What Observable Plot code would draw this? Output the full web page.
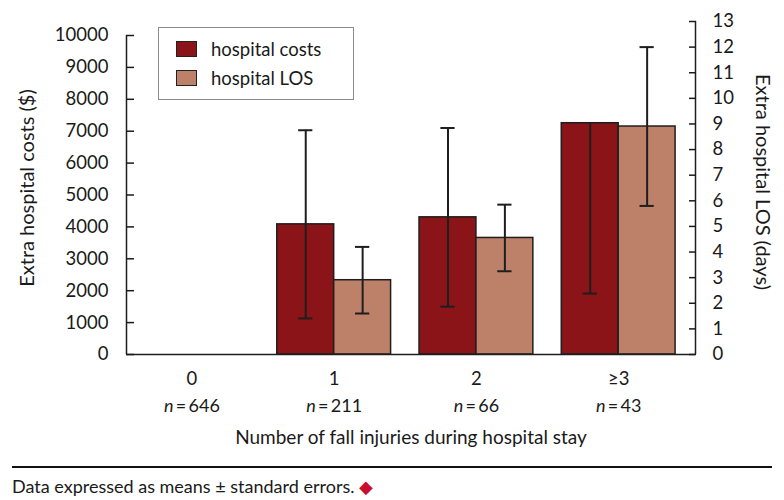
<!DOCTYPE html>
<html><head><meta charset="utf-8">
<script src="https://cdn.jsdelivr.net/npm/d3@7"></script>
<script src="https://cdn.jsdelivr.net/npm/@observablehq/plot@0.6"></script>
<style>
body{margin:0;background:#fff;font-family:Lato,"Open Sans",sans-serif;color:#1a1a1a;}
#wrap{position:relative;width:784px;}
#legend{position:absolute;left:158px;top:27px;width:194px;height:71px;border:1.5px solid #8a8a8a;background:#fff;}
.item{position:absolute;left:17px;height:20px;display:flex;align-items:center;font-size:18.5px;}
.sw{width:19px;height:14px;border:1.5px solid #222;margin-right:14px;}
#cap{margin:10px 12px 0 12px;border-top:2px solid #111;padding-top:7px;font-size:18px;}
#cap .d{color:#c8102e;}
</style></head><body>
<div id="wrap"><div id="chart"></div><div id="legend"></div></div>
<div id="cap">Data expressed as means ± standard errors. <span class="d">◆</span></div>
<script>
const categories = ["0", "1", "2", "≥3"];
const nCounts = [646, 211, 66, 43];
const costs = [0, 4080, 4300, 7250];
const costsSE = [0, 2950, 2800, 5340];
const los = [0, 2.9, 4.55, 8.9];
const losSE = [0, 1.3, 1.3, 3.1];
const costTicks = d3.range(0, 10001, 1000);
const losTicks = d3.range(0, 14);
const seriesNames = ["hospital costs", "hospital LOS"];
const seriesColors = ["#8b1418", "#bd8068"];
const xTitle = "Number of fall injuries during hospital stay";
const yLeftTitle = "Extra hospital costs ($)";
const yRightTitle = "Extra hospital LOS (days)";

const costMax = 10000, losMax = 13;
const k = 803;           // cost units per LOS day (aligns the two axes)
const yTop = losMax * k;
const xMin = -0.46, xMax = 3.54, halfW = 0.4, capW = 0.05;

const rows = [];
categories.forEach((c, i) => {
  rows.push({g: i, s: 0, v: costs[i], y: costs[i], lo: costs[i] - costsSE[i], hi: costs[i] + costsSE[i], lim: costMax});
  rows.push({g: i, s: 1, v: los[i], y: los[i] * k, lo: (los[i] - losSE[i]) * k, hi: (los[i] + losSE[i]) * k, lim: losMax * k});
});
const shown = rows.filter(r => r.v > 0);
const cx = r => r.g + (r.s === 0 ? -halfW / 2 : halfW / 2);
const idx = categories.map((c, i) => i);
const ink = "#1e1e1e";

const H = 456;
const svg = Plot.plot({
  width: 784, height: H,
  marginLeft: 126, marginRight: 89, marginTop: 21, marginBottom: H - 354,
  style: {fontFamily: "Lato, 'Open Sans', sans-serif", fontSize: "18px", color: "#1a1a1a", background: "#fff"},
  x: {domain: [xMin, xMax], axis: null},
  y: {domain: [0, yTop], axis: null},
  marks: [
    ...[0, 1].map(s => Plot.rect(shown.filter(r => r.s === s), {
      x1: r => r.g + (s === 0 ? -halfW : 0), x2: r => r.g + (s === 0 ? 0 : halfW),
      y1: 0, y2: "y", fill: seriesColors[s], stroke: ink, strokeWidth: 1.5
    })),
    Plot.ruleX(shown, {x: cx, y1: "lo", y2: r => r.hi <= r.lim ? r.hi : r.y, stroke: ink, strokeWidth: 2}),
    Plot.ruleY(shown, {x1: r => cx(r) - capW, x2: r => cx(r) + capW, y: "lo", stroke: ink, strokeWidth: 2}),
    Plot.ruleY(shown.filter(r => r.hi <= r.lim), {x1: r => cx(r) - capW, x2: r => cx(r) + capW, y: "hi", stroke: ink, strokeWidth: 2}),
    Plot.ruleX([xMin], {y1: 0, y2: costMax, stroke: ink, strokeWidth: 1.5}),
    Plot.ruleX([xMax], {y1: 0, y2: yTop, stroke: ink, strokeWidth: 1.5}),
    Plot.ruleY([0], {x1: xMin, x2: xMax, stroke: ink, strokeWidth: 1.5}),
    Plot.axisY({anchor: "left", ticks: costTicks, tickFormat: d => String(d), tickSize: -8, tickPadding: 26, label: null, fontSize: 18.5, strokeWidth: 1.5}),
    Plot.axisY({anchor: "right", ticks: losTicks.map(d => d * k), tickFormat: v => String(Math.round(v / k)), tickSize: -7, tickPadding: 24, label: null, fontSize: 18.5, strokeWidth: 1.5}),
    Plot.axisX({ticks: idx, tickFormat: i => categories[i], tickSize: 0, tickPadding: 17, label: null, fontSize: 18.5}),
    Plot.axisX({ticks: idx, tickFormat: i => "n\u2009=\u2009" + nCounts[i], tickSize: 0, tickPadding: 45, label: null, fontSize: 18}),
    Plot.text([xTitle], {frameAnchor: "bottom", lineAnchor: "top", dy: 76, fontSize: 19}),
    Plot.text([yLeftTitle], {frameAnchor: "left", textAnchor: "middle", rotate: -90, dx: -99, fontSize: 20}),
    Plot.text([yRightTitle], {frameAnchor: "right", textAnchor: "middle", rotate: 90, dx: 67, dy: -6, fontSize: 20})
  ]
});
d3.select(svg).selectAll("text").each(function () {
  const t = this.textContent;
  if (/^n\u2009=/.test(t) && this.children.length === 0) {
    this.textContent = "";
    d3.select(this).append("tspan").attr("font-style", "italic").text("n");
    d3.select(this).append("tspan").text(t.slice(1));
  }
});
document.getElementById("chart").appendChild(svg);

const leg = document.getElementById("legend");
seriesNames.forEach((name, i) => {
  const it = document.createElement("div");
  it.className = "item";
  it.style.top = (11 + i * 29) + "px";
  it.innerHTML = `<span class="sw" style="background:${seriesColors[i]}"></span><span>${name}</span>`;
  leg.appendChild(it);
});
</script>
</body></html>
